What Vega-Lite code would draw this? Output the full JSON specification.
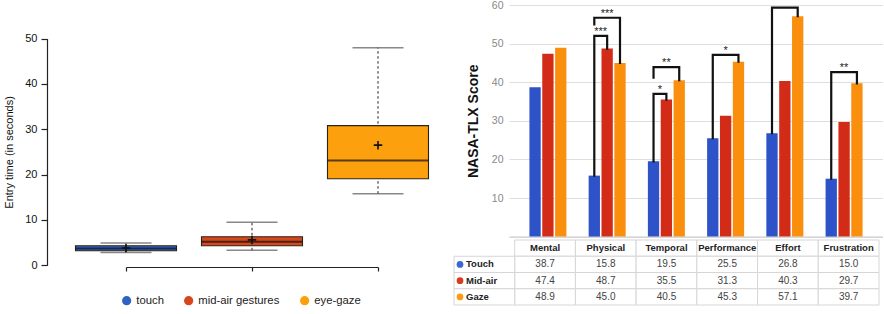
{
  "$schema": "https://vega.github.io/schema/vega-lite/v6.json",
  "autosize": {"type": "pad"},
  "padding": {"left": 3, "top": 0, "right": 0, "bottom": 0},
  "background": "white",
  "config": {
    "font": "Liberation Sans",
    "view": {"stroke": null}
  },
  "datasets": {
    "entry": [
      {"method": "touch", "lower": 2.8, "q1": 3.2, "median": 3.7, "q3": 4.3, "upper": 4.9, "mean": 3.8},
      {"method": "mid-air gestures", "lower": 3.3, "q1": 4.3, "median": 5.2, "q3": 6.3, "upper": 9.5, "mean": 5.6},
      {"method": "eye-gaze", "lower": 15.8, "q1": 19.1, "median": 23.1, "q3": 30.8, "upper": 48.0, "mean": 26.5}
    ],
    "tlx": [
      {"dimension": "Mental", "condition": "Touch", "score": 38.7},
      {"dimension": "Mental", "condition": "Mid-air", "score": 47.4},
      {"dimension": "Mental", "condition": "Gaze", "score": 48.9},
      {"dimension": "Physical", "condition": "Touch", "score": 15.8},
      {"dimension": "Physical", "condition": "Mid-air", "score": 48.7},
      {"dimension": "Physical", "condition": "Gaze", "score": 45.0},
      {"dimension": "Temporal", "condition": "Touch", "score": 19.5},
      {"dimension": "Temporal", "condition": "Mid-air", "score": 35.5},
      {"dimension": "Temporal", "condition": "Gaze", "score": 40.5},
      {"dimension": "Performance", "condition": "Touch", "score": 25.5},
      {"dimension": "Performance", "condition": "Mid-air", "score": 31.3},
      {"dimension": "Performance", "condition": "Gaze", "score": 45.3},
      {"dimension": "Effort", "condition": "Touch", "score": 26.8},
      {"dimension": "Effort", "condition": "Mid-air", "score": 40.3},
      {"dimension": "Effort", "condition": "Gaze", "score": 57.1},
      {"dimension": "Frustration", "condition": "Touch", "score": 15.0},
      {"dimension": "Frustration", "condition": "Mid-air", "score": 29.7},
      {"dimension": "Frustration", "condition": "Gaze", "score": 39.7}
    ],
    "bracketPath": [
      {"bracket": "phys-tm", "dimension": "Physical", "condition": "Touch", "level": 15.8, "seq": 1},
      {"bracket": "phys-tm", "dimension": "Physical", "condition": "Touch", "level": 52.0, "seq": 2},
      {"bracket": "phys-tm", "dimension": "Physical", "condition": "Mid-air", "level": 52.0, "seq": 3},
      {"bracket": "phys-tm", "dimension": "Physical", "condition": "Mid-air", "level": 48.7, "seq": 4},
      {"bracket": "phys-tg", "dimension": "Physical", "condition": "Touch", "level": 55.0, "seq": 1},
      {"bracket": "phys-tg", "dimension": "Physical", "condition": "Touch", "level": 56.7, "seq": 2},
      {"bracket": "phys-tg", "dimension": "Physical", "condition": "Gaze", "level": 56.7, "seq": 3},
      {"bracket": "phys-tg", "dimension": "Physical", "condition": "Gaze", "level": 45.0, "seq": 4},
      {"bracket": "temp-tm", "dimension": "Temporal", "condition": "Touch", "level": 19.5, "seq": 1},
      {"bracket": "temp-tm", "dimension": "Temporal", "condition": "Touch", "level": 37.0, "seq": 2},
      {"bracket": "temp-tm", "dimension": "Temporal", "condition": "Mid-air", "level": 37.0, "seq": 3},
      {"bracket": "temp-tm", "dimension": "Temporal", "condition": "Mid-air", "level": 35.5, "seq": 4},
      {"bracket": "temp-tg", "dimension": "Temporal", "condition": "Touch", "level": 41.2, "seq": 1},
      {"bracket": "temp-tg", "dimension": "Temporal", "condition": "Touch", "level": 43.9, "seq": 2},
      {"bracket": "temp-tg", "dimension": "Temporal", "condition": "Gaze", "level": 43.9, "seq": 3},
      {"bracket": "temp-tg", "dimension": "Temporal", "condition": "Gaze", "level": 40.5, "seq": 4},
      {"bracket": "perf-tg", "dimension": "Performance", "condition": "Touch", "level": 25.5, "seq": 1},
      {"bracket": "perf-tg", "dimension": "Performance", "condition": "Touch", "level": 47.1, "seq": 2},
      {"bracket": "perf-tg", "dimension": "Performance", "condition": "Gaze", "level": 47.1, "seq": 3},
      {"bracket": "perf-tg", "dimension": "Performance", "condition": "Gaze", "level": 45.3, "seq": 4},
      {"bracket": "effo-tg", "dimension": "Effort", "condition": "Touch", "level": 26.8, "seq": 1},
      {"bracket": "effo-tg", "dimension": "Effort", "condition": "Touch", "level": 59.3, "seq": 2},
      {"bracket": "effo-tg", "dimension": "Effort", "condition": "Gaze", "level": 59.3, "seq": 3},
      {"bracket": "effo-tg", "dimension": "Effort", "condition": "Gaze", "level": 57.1, "seq": 4},
      {"bracket": "frus-tg", "dimension": "Frustration", "condition": "Touch", "level": 15.0, "seq": 1},
      {"bracket": "frus-tg", "dimension": "Frustration", "condition": "Touch", "level": 42.6, "seq": 2},
      {"bracket": "frus-tg", "dimension": "Frustration", "condition": "Gaze", "level": 42.6, "seq": 3},
      {"bracket": "frus-tg", "dimension": "Frustration", "condition": "Gaze", "level": 39.7, "seq": 4}
    ],
    "bracketLabels": [
      {"dimension": "Physical", "condition": "Mid-air", "level": 56.7, "label": "***", "span": "outer"},
      {"dimension": "Physical", "condition": "Touch", "level": 52.0, "label": "***", "span": "inner"},
      {"dimension": "Temporal", "condition": "Mid-air", "level": 43.9, "label": "**", "span": "outer"},
      {"dimension": "Temporal", "condition": "Touch", "level": 37.0, "label": "*", "span": "inner"},
      {"dimension": "Performance", "condition": "Mid-air", "level": 47.1, "label": "*", "span": "outer"},
      {"dimension": "Frustration", "condition": "Mid-air", "level": 42.6, "label": "**", "span": "outer"}
    ]
  },
  "hconcat": [
    {
      "width": 252,
      "height": 262,
      "data": {"name": "entry"},
      "encoding": {
        "x": {
          "field": "method", "type": "nominal", "sort": null,
          "scale": {"type": "point", "padding": 0, "domain": ["touch", "mid-air gestures", "eye-gaze"]},
          "axis": {"labels": false, "title": null, "grid": false, "ticks": true, "tickSize": 4, "domainColor": "#222", "tickColor": "#222", "domainWidth": 1.2, "tickWidth": 1.2}
        }
      },
      "layer": [
        {
          "mark": {"type": "rule", "color": "#222", "strokeDash": [2.5, 2.5], "strokeWidth": 1},
          "encoding": {
            "y": {
              "field": "lower", "type": "quantitative",
              "scale": {"domain": [0, 50], "range": [260.3, 33.6], "nice": false, "zero": false},
              "axis": {"title": "Entry time (in seconds)", "values": [0, 10, 20, 30, 40, 50], "grid": false, "offset": 79, "tickSize": 6, "labelPadding": 4, "labelFontSize": 11, "labelColor": "#111", "titleFontSize": 11, "titleFontWeight": "normal", "titleColor": "#111", "titlePadding": 10, "domainColor": "#222", "tickColor": "#222", "domainWidth": 1.2, "tickWidth": 1.2}
            },
            "y2": {"field": "upper"}
          }
        },
        {
          "mark": {"type": "tick", "color": "#555", "size": 51, "thickness": 1.5},
          "encoding": {"y": {"field": "lower", "type": "quantitative"}}
        },
        {
          "mark": {"type": "tick", "color": "#555", "size": 51, "thickness": 1.5},
          "encoding": {"y": {"field": "upper", "type": "quantitative"}}
        },
        {
          "mark": {"type": "bar", "width": 101, "stroke": "#2a2418", "strokeWidth": 1.1},
          "encoding": {
            "y": {"field": "q1", "type": "quantitative"},
            "y2": {"field": "q3"},
            "color": {
              "field": "method", "type": "nominal",
              "scale": {"domain": ["touch", "mid-air gestures", "eye-gaze"], "range": ["#3262c0", "#d8461c", "#fda00e"]},
              "legend": {"orient": "none", "legendX": -5, "legendY": 290, "direction": "horizontal", "title": null, "symbolType": "circle", "symbolSize": 85, "symbolStrokeWidth": 0, "labelFontSize": 11.3, "labelColor": "#222", "columnPadding": 19, "labelOffset": 4, "padding": 0}
            }
          }
        },
        {
          "mark": {"type": "tick", "color": "#111", "size": 101, "thickness": 2},
          "encoding": {"y": {"field": "median", "type": "quantitative"}}
        },
        {
          "mark": {"type": "point", "shape": "M-1,0L1,0M0,-1L0,1", "size": 72, "filled": false, "stroke": "#111", "strokeWidth": 1.6, "opacity": 1},
          "encoding": {"y": {"field": "mean", "type": "quantitative"}}
        }
      ]
    },
    {
      "spacing": 3,
      "bounds": "flush",
      "resolve": {"scale": {"x": "independent", "y": "independent", "color": "independent", "xOffset": "independent"}},
      "vconcat": [
        {
          "width": 374,
          "height": 231.6,
          "data": {"name": "tlx"},
          "encoding": {
            "x": {
              "field": "dimension", "type": "nominal", "sort": null,
              "scale": {"domain": ["Mental", "Physical", "Temporal", "Performance", "Effort", "Frustration"], "paddingInner": 0, "paddingOuter": 0.157},
              "axis": {"labels": false, "ticks": false, "title": null, "grid": false, "domainColor": "#bbb"}
            },
            "xOffset": {
              "field": "condition", "type": "nominal", "sort": null,
              "scale": {"domain": ["Touch", "Mid-air", "Gaze"], "paddingInner": 0.12, "paddingOuter": 0.865}
            }
          },
          "layer": [
            {
              "mark": {"type": "bar"},
              "encoding": {
                "y": {
                  "field": "score", "type": "quantitative",
                  "scale": {"domain": [0, 60], "nice": false},
                  "axis": {"title": "NASA-TLX Score", "values": [10, 20, 30, 40, 50, 60], "grid": true, "gridColor": "#dedede", "domain": false, "ticks": false, "tickSize": 0, "labelPadding": 6, "labelColor": "#888", "labelFontSize": 10.5, "titleFontSize": 14, "titleFontWeight": "bold", "titleColor": "#111", "titlePadding": 11}
                },
                "color": {
                  "field": "condition", "type": "nominal",
                  "scale": {"domain": ["Touch", "Mid-air", "Gaze"], "range": ["#2e52c8", "#d22b17", "#fa8f0e"]},
                  "legend": null
                }
              }
            },
            {
              "data": {"name": "bracketPath"},
              "mark": {"type": "line", "color": "#111", "strokeWidth": 2.2, "strokeJoin": "miter", "strokeCap": "square"},
              "encoding": {
                "y": {"field": "level", "type": "quantitative"},
                "detail": {"field": "bracket"},
                "order": {"field": "seq"}
              }
            },
            {
              "data": {"name": "bracketLabels"},
              "transform": [{"filter": "datum.span === 'outer'"}],
              "mark": {"type": "text", "baseline": "alphabetic", "fontSize": 11, "fill": "#222", "dy": -1},
              "encoding": {
                "y": {"field": "level", "type": "quantitative"},
                "text": {"field": "label"}
              }
            },
            {
              "data": {"name": "bracketLabels"},
              "transform": [{"filter": "datum.span === 'inner'"}],
              "mark": {"type": "text", "baseline": "alphabetic", "fontSize": 11, "fill": "#222", "dy": -1, "dx": 6.4},
              "encoding": {
                "y": {"field": "level", "type": "quantitative"},
                "text": {"field": "label"}
              }
            }
          ]
        },
        {
          "width": 370,
          "height": 65,
          "data": {"name": "tlx"},
          "layer": [
            {
              "transform": [{"filter": "datum.condition === 'Touch'"}],
              "mark": {"type": "rect", "fill": "white", "stroke": "#d6d6d6", "strokeWidth": 1},
              "encoding": {
                "x": {
                  "field": "dimension", "type": "nominal", "sort": null,
                  "scale": {"domain": ["Condition", "Mental", "Physical", "Temporal", "Performance", "Effort", "Frustration"], "range": [-55, 370], "paddingInner": 0, "paddingOuter": 0},
                  "axis": null
                },
                "y": {
                  "datum": "header", "type": "nominal",
                  "scale": {"domain": ["header", "Touch", "Mid-air", "Gaze"], "paddingInner": 0, "paddingOuter": 0},
                  "axis": null
                }
              }
            },
            {
              "mark": {"type": "rect", "fill": "white", "stroke": "#d6d6d6", "strokeWidth": 1},
              "encoding": {
                "x": {"field": "dimension", "type": "nominal", "sort": null},
                "y": {"field": "condition", "type": "nominal", "sort": null}
              }
            },
            {
              "transform": [{"filter": "datum.dimension === 'Mental'"}],
              "mark": {"type": "rect", "fill": "white", "stroke": "#d6d6d6", "strokeWidth": 1},
              "encoding": {
                "x": {"datum": "Condition", "type": "nominal"},
                "y": {"field": "condition", "type": "nominal", "sort": null}
              }
            },
            {
              "transform": [{"filter": "datum.condition === 'Touch'"}],
              "mark": {"type": "text", "fontSize": 9.5, "fontWeight": "bold", "color": "#222", "baseline": "middle"},
              "encoding": {
                "x": {"field": "dimension", "type": "nominal", "sort": null},
                "y": {"datum": "header", "type": "nominal"},
                "text": {"field": "dimension"}
              }
            },
            {
              "mark": {"type": "text", "fontSize": 10, "color": "#444", "baseline": "middle"},
              "encoding": {
                "x": {"field": "dimension", "type": "nominal", "sort": null},
                "y": {"field": "condition", "type": "nominal", "sort": null},
                "text": {"field": "score", "format": ".1f"}
              }
            },
            {
              "transform": [{"filter": "datum.dimension === 'Mental'"}],
              "mark": {"type": "text", "fontSize": 9.5, "fontWeight": "bold", "color": "#222", "baseline": "middle", "align": "left", "dx": 12},
              "encoding": {
                "x": {"datum": "Condition", "type": "nominal", "bandPosition": 0},
                "y": {"field": "condition", "type": "nominal", "sort": null},
                "text": {"field": "condition"}
              }
            },
            {
              "transform": [{"filter": "datum.dimension === 'Mental'"}],
              "mark": {"type": "point", "filled": true, "size": 45, "opacity": 1, "xOffset": 6},
              "encoding": {
                "x": {"datum": "Condition", "type": "nominal", "bandPosition": 0},
                "y": {"field": "condition", "type": "nominal", "sort": null},
                "color": {
                  "field": "condition", "type": "nominal",
                  "scale": {"domain": ["Touch", "Mid-air", "Gaze"], "range": ["#3a68d2", "#dc3a1e", "#fd9c12"]},
                  "legend": null
                }
              }
            }
          ]
        }
      ]
    }
  ],
  "spacing": 131,
  "bounds": "flush",
  "resolve": {"scale": {"x": "independent", "y": "independent", "color": "independent"}}
}
